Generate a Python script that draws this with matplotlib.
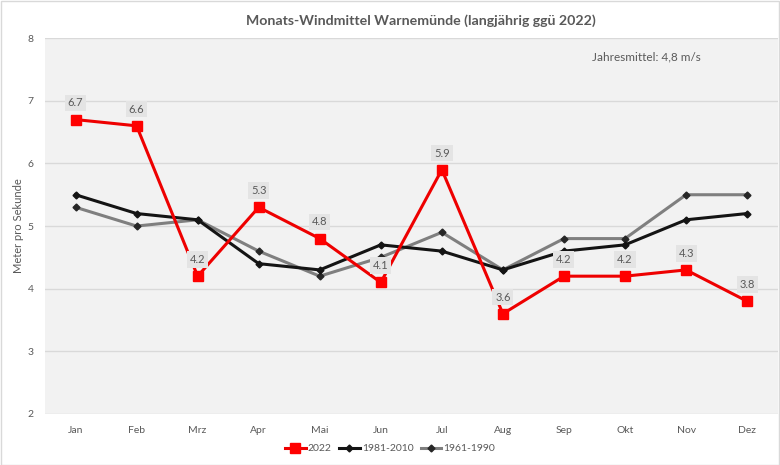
import numpy as np
import matplotlib.pyplot as plt
from matplotlib.patches import Rectangle

months = ["Jan", "Feb", "Mrz", "Apr", "Mai", "Jun", "Jul", "Aug", "Sep", "Okt", "Nov", "Dez"]
wind_2022 = [6.7, 6.6, 4.2, 5.3, 4.8, 4.1, 5.9, 3.6, 4.2, 4.2, 4.3, 3.8]
wind_1981_2010 = [5.5, 5.2, 5.1, 4.4, 4.3, 4.7, 4.6, 4.3, 4.6, 4.7, 5.1, 5.2]
wind_1961_1990 = [5.3, 5.0, 5.1, 4.6, 4.2, 4.5, 4.9, 4.3, 4.8, 4.8, 5.5, 5.5]
y_ticks = [2, 3, 4, 5, 6, 7, 8]

plt.rcParams['font.family'] = ['Lato', 'DejaVu Sans']
TXT = "#595959"

fig = plt.figure(figsize=(7.8, 4.65), dpi=100)
fig.patch.set_facecolor("white")
fig.add_artist(Rectangle((0.001, 0.001), 0.998, 0.997, transform=fig.transFigure,
                         fill=False, edgecolor="#d9d9d9", linewidth=1))

ax = fig.add_axes([0.0577, 0.1097, 0.9393, 0.8083])
ax.set_facecolor("#f2f2f2")
x = np.arange(len(months))

ax.plot(x, wind_1961_1990, color="#7f7f7f", linewidth=2.2, marker="D", markersize=3.5,
        markerfacecolor="#262626", markeredgecolor="#262626", label="1961-1990", zorder=3)
ax.plot(x, wind_1981_2010, color="#141414", linewidth=2.2, marker="D", markersize=3.5,
        markerfacecolor="#141414", markeredgecolor="#141414", label="1981-2010", zorder=4)
ax.plot(x, wind_2022, color="#ee0000", linewidth=2.2, marker="s", markersize=7.5,
        markerfacecolor="#ff0000", markeredgecolor="#ff0000", label="2022", zorder=5)

for xi, v in zip(x, wind_2022):
    ax.annotate(f"{v:.1f}", (xi, v), xytext=(0, 12), textcoords="offset points",
                ha="center", va="center", fontsize=8, color=TXT, zorder=6,
                bbox=dict(boxstyle="square,pad=0.25", facecolor="#e4e4e4", edgecolor="none"))

ax.set_xlim(-0.5, len(months) - 0.5)
ax.set_ylim(2, 8)
ax.set_yticks(y_ticks)
ax.set_xticks(x)
ax.set_xticklabels(months)
ax.tick_params(axis="both", length=0, labelsize=7.5, colors=TXT)
ax.tick_params(axis="x", pad=9)
ax.tick_params(axis="y", pad=8)
ax.grid(axis="y", color="#d9d9d9", linewidth=1)
ax.set_axisbelow(True)
for s in ax.spines.values():
    s.set_visible(False)

ax.set_ylabel("Meter pro Sekunde", fontsize=8, color=TXT)
ax.yaxis.set_label_coords(-0.029, 0.5)
ax.text(0.747, 0.95, "Jahresmittel: 4,8 m/s", transform=ax.transAxes, fontsize=8.5,
        color=TXT, ha="left", va="center")

fig.text(0.54, 0.955, "Monats-Windmittel Warnemünde (langjährig ggü 2022)", ha="center",
         va="center", fontsize=10.2, fontweight="bold", color=TXT)

handles, labels = ax.get_legend_handles_labels()
order = [2, 1, 0]
fig.legend([handles[i] for i in order], [labels[i] for i in order], loc="center",
           bbox_to_anchor=(0.5, 0.035), ncol=3, frameon=False, fontsize=7.5,
           labelcolor=TXT, handlelength=2.0, handletextpad=0.2, columnspacing=0.7)

fig.savefig("out.png", dpi=100)
